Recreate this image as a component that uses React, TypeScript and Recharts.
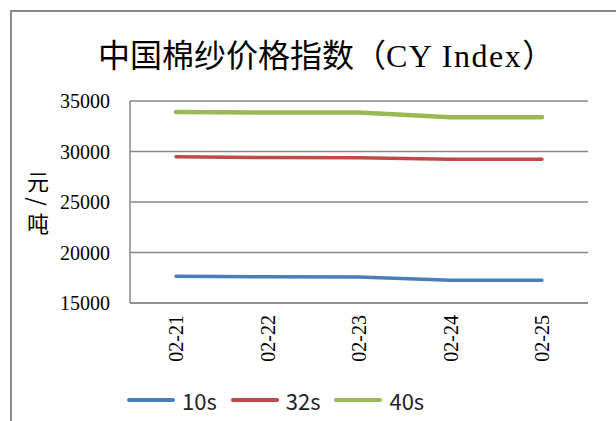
import { LineChart, Line, XAxis, YAxis, CartesianGrid, Legend } from 'recharts';

const dates = ['02-21', '02-22', '02-23', '02-24', '02-25'];
const yarn10s = [17640, 17600, 17570, 17250, 17250];
const yarn32s = [29480, 29400, 29380, 29240, 29240];
const yarn40s = [33900, 33850, 33850, 33400, 33400];
const yTicks = [15000, 20000, 25000, 30000, 35000];

const series = [
  { key: 's10', name: '10s', color: '#4a7ebb', width: 3.5 },
  { key: 's32', name: '32s', color: '#be4b48', width: 3.5 },
  { key: 's40', name: '40s', color: '#98b954', width: 4.5 },
];

const data = dates.map((d, i) => ({ date: d, s10: yarn10s[i], s32: yarn32s[i], s40: yarn40s[i] }));

const serif = '"Liberation Serif", "Times New Roman", serif';
const cjk = '"Noto Sans CJK SC", "Noto Sans", sans-serif';
const gridColor = '#888888';

const DateTick = ({ x, y, payload }: any) => (
  <text
    x={x}
    y={y}
    transform={`rotate(-90, ${x}, ${y})`}
    textAnchor="end"
    dominantBaseline="central"
    fontFamily={serif}
    fontSize={20}
    fill="#000"
  >
    {payload.value}
  </text>
);

const renderLegend = () => (
  <div style={{ display: 'flex', alignItems: 'center', height: 30, fontFamily: cjk, fontSize: 22, color: '#222' }}>
    {series.map((s) => (
      <div key={s.key} style={{ display: 'flex', alignItems: 'center', marginRight: 14 }}>
        <div style={{ width: 48, height: s.width, borderRadius: 2, background: s.color, marginRight: 7 }} />
        <span>{s.name}</span>
      </div>
    ))}
  </div>
);

export default function App() {
  return (
    <div style={{ position: 'absolute', left: 0, top: 0, width: 616, height: 421, overflow: 'hidden', background: '#fff' }}>
      <div style={{ position: 'absolute', left: 10, top: 10, width: 700, height: 500, borderLeft: '2px solid #8a8a8a', borderTop: '2px solid #8a8a8a' }} />
      <div style={{ position: 'absolute', left: 98, top: 33, fontFamily: cjk, fontSize: 32, color: '#000', lineHeight: '40px', whiteSpace: 'nowrap' }}>
        中国棉纱价格指数（<span style={{ fontFamily: serif, letterSpacing: 1.5 }}>CY Index</span>）
      </div>
      {/* unit label: 元 and 吨 upright, the slash turned as in vertical text */}
      <div style={{ position: 'absolute', left: 26, top: 170, width: 24, display: 'flex', flexDirection: 'column', alignItems: 'center', fontFamily: cjk, fontSize: 22, lineHeight: '21px', color: '#000' }}>
        <span>元</span>
        <span style={{ display: 'inline-block', transform: 'rotate(90deg)' }}>/</span>
        <span>吨</span>
      </div>
      <LineChart width={616} height={421} data={data} margin={{ top: 101, right: 28, left: 0, bottom: 8 }}>
        <CartesianGrid vertical={false} stroke={gridColor} strokeWidth={1.5} />
        <XAxis
          dataKey="date"
          tick={<DateTick />}
          tickLine={false}
          tickMargin={6}
          height={80}
          interval={0}
          padding={{ left: 46, right: 46 }}
          stroke={gridColor}
          strokeWidth={1.5}
        />
        <YAxis
          domain={[15000, 35000]}
          ticks={yTicks}
          width={130}
          tickLine={false}
          tickMargin={14}
          tick={{ fontFamily: serif, fontSize: 20, fill: '#000' }}
          stroke={gridColor}
          strokeWidth={1.5}
        />
        <Legend content={renderLegend} wrapperStyle={{ left: 127, bottom: 6, width: 'auto' }} />
        {series.map((s) => (
          <Line
            key={s.key}
            dataKey={s.key}
            name={s.name}
            stroke={s.color}
            strokeWidth={s.width}
            strokeLinecap="round"
            dot={false}
            isAnimationActive={false}
          />
        ))}
      </LineChart>
    </div>
  );
}
